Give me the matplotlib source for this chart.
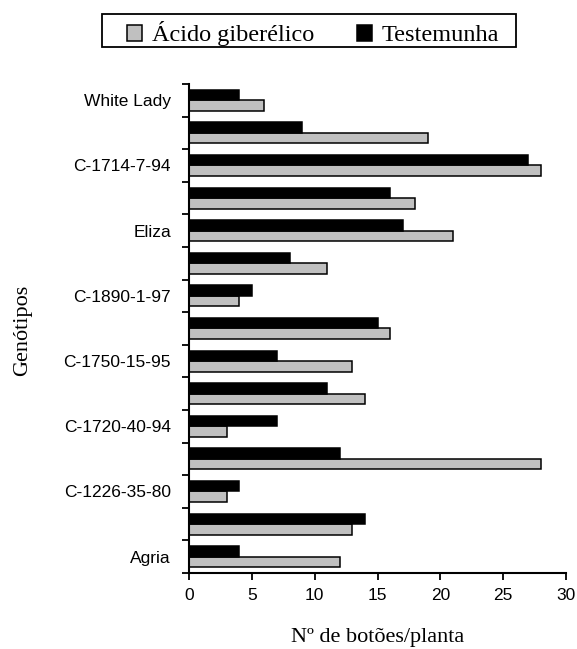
import matplotlib
matplotlib.use('Agg')
import matplotlib.pyplot as plt
import numpy as np
from matplotlib.patches import Patch, Rectangle

# genotypes from bottom to top (only every other one is labelled in the figure)
genotipos = ['Agria', '', 'C-1226-35-80', '', 'C-1720-40-94', '', 'C-1750-15-95', '',
             'C-1890-1-97', '', 'Eliza', '', 'C-1714-7-94', '', 'White Lady']
acido = [12, 13, 3, 28, 3, 14, 13, 16, 4, 11, 21, 18, 28, 19, 6]
testemunha = [4, 14, 4, 12, 7, 11, 7, 15, 5, 8, 17, 16, 27, 9, 4]
xticks = [0, 5, 10, 15, 20, 25, 30]

serif = 'Liberation Serif'
sans = 'Liberation Sans'

fig = plt.figure(figsize=(5.77, 6.49), dpi=100)
ax = fig.add_axes([0.3276, 0.1171, 0.6534, 0.7535])

y = np.arange(len(genotipos))
h = 0.32
ax.barh(y - h/2, acido, height=h, color='#c0c0c0', edgecolor='black', linewidth=1.1)
ax.barh(y + h/2, testemunha, height=h, color='black', edgecolor='black', linewidth=1.1)

ax.set_xlim(0, 30)
ax.set_ylim(-0.5, len(genotipos) - 0.5)
ax.set_xticks(xticks)
ax.set_xticklabels([str(t) for t in xticks], fontfamily=sans, fontsize=12.5)

# ticks between groups, labels on the group centres
ax.set_yticks(np.arange(len(genotipos) + 1) - 0.5)
ax.set_yticklabels([])
ax.set_yticks(y, minor=True)
ax.set_yticklabels(genotipos, minor=True, fontfamily=sans, fontsize=12.5)
ax.tick_params(axis='y', which='minor', length=0, pad=13)
ax.tick_params(axis='both', which='major', length=5, width=1.3, direction='out')
ax.tick_params(axis='x', pad=6)

for s in ['top', 'right']:
    ax.spines[s].set_visible(False)
for s in ['left', 'bottom']:
    ax.spines[s].set_linewidth(1.5)

ax.set_xlabel('Nº de botões/planta', fontfamily=serif, fontsize=16, labelpad=18)
fig.text(0.039, 0.491, 'Genótipos', rotation=90, ha='center', va='center',
         fontfamily=serif, fontsize=16)

handles = [Patch(facecolor='#c0c0c0', edgecolor='black', linewidth=1.1),
           Patch(facecolor='black', edgecolor='black', linewidth=1.1)]
leg = fig.legend(handles, ['Ácido giberélico', 'Testemunha'], ncol=2,
                 loc='center', bbox_to_anchor=(0.5425, 0.948),
                 prop={'family': serif, 'size': 17.5}, frameon=False,
                 borderpad=0.2, handlelength=0.62, handleheight=0.62,
                 handletextpad=0.4, columnspacing=1.75)
# legend box, wider than the legend contents as in the original
fig.patches.append(Rectangle((102 / 577, 1 - 47 / 649), 414 / 577, 33 / 649,
                             transform=fig.transFigure, fill=False,
                             edgecolor='black', linewidth=1.3))

fig.savefig('out.png', dpi=100)
